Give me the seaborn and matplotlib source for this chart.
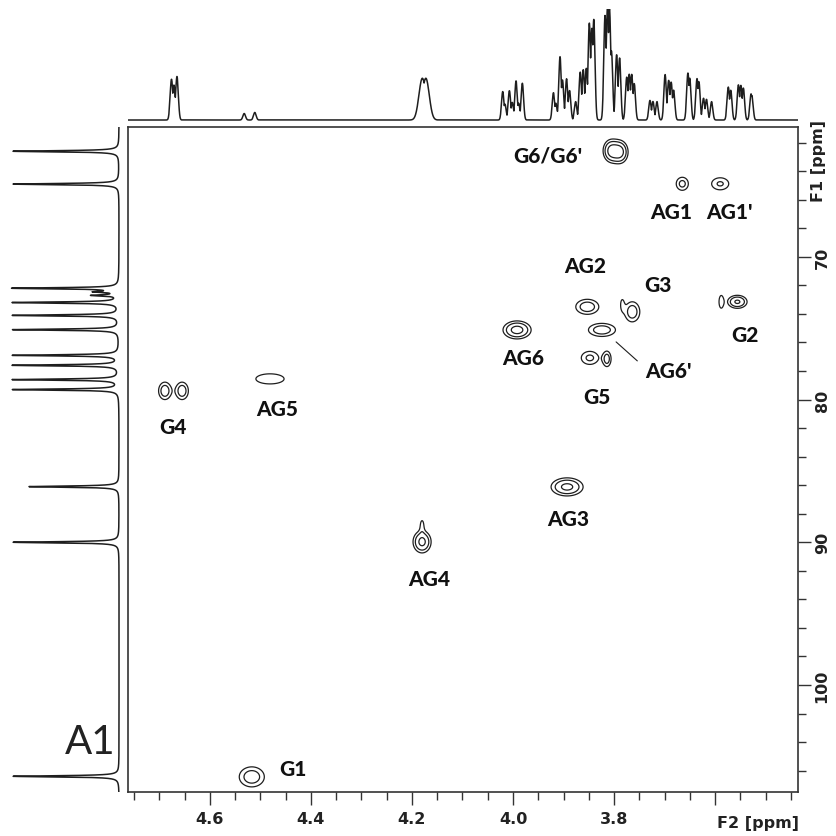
import numpy as np
import pandas as pd
import matplotlib
matplotlib.use("Agg")
import matplotlib.pyplot as plt
import matplotlib.transforms as mtransforms
from matplotlib.ticker import MultipleLocator, FixedLocator
import seaborn as sns

sns.set_theme(style="white")
plt.rcParams['font.family'] = ['DejaVu Sans']

# ---------------- data ----------------
F2_RANGE = (4.762, 3.436)     # 1H ppm (left -> right)
F1_RANGE = (60.9, 107.5)      # 13C ppm (top -> bottom)

# 1H projection lines (ppm, relative intensity, width)
h_pos = [4.676, 4.671, 4.665, 4.532, 4.511, 4.180, 4.172,
         4.0204, 4.0158, 4.0072, 4.0013, 3.9940, 3.9887, 3.9815,
         3.920, 3.915, 3.907, 3.902, 3.894, 3.888, 3.876, 3.867, 3.861, 3.855,
         3.849, 3.844, 3.840, 3.818, 3.813, 3.809, 3.805, 3.795, 3.789,
         3.775, 3.770, 3.765, 3.760,
         3.729, 3.723, 3.715,
         3.699, 3.692, 3.687, 3.682,
         3.654, 3.650, 3.636, 3.632, 3.623, 3.617, 3.607,
         3.574, 3.569, 3.554, 3.549, 3.544, 3.529, 3.527]
h_int = [0.37, 0.31, 0.40, 0.06, 0.07, 0.36, 0.36,
         0.26, 0.14, 0.27, 0.16, 0.36, 0.15, 0.34,
         0.25, 0.15, 0.58, 0.36, 0.38, 0.27, 0.17, 0.44, 0.46, 0.47,
         0.88, 0.80, 0.90, 0.95, 1.00, 0.97, 0.60, 0.60, 0.57,
         0.39, 0.41, 0.41, 0.33,
         0.18, 0.17, 0.17,
         0.42, 0.36, 0.34, 0.27,
         0.42, 0.37, 0.37, 0.34, 0.20, 0.19, 0.17,
         0.30, 0.27, 0.32, 0.31, 0.29, 0.22, 0.20]
h_wid = [0.0026] * 5 + [0.0065, 0.0065] + [0.0024] * (len(h_pos) - 7)

# 13C projection lines (ppm, relative intensity)
c_pos = [62.6, 64.9, 72.2, 72.45, 72.7, 73.2, 74.1, 75.1, 76.9, 77.6, 78.6, 79.3,
         86.1, 90.0, 106.4]
c_int = [1.00, 1.00, 1.00, 0.20, 0.24, 1.00, 1.00, 1.00, 1.00, 1.00, 1.00, 1.00,
         0.85, 1.00, 1.00]

# HSQC cross peaks: 1H ppm, 13C ppm, amplitude, 1H sigma, 13C sigma
xp_h   = [3.806, 3.788, 3.665, 3.590, 3.853, 3.764, 3.784, 3.556, 3.588,
          3.992, 3.824, 3.848, 3.814, 4.481, 4.689, 4.655, 3.893, 4.180, 4.180, 4.517]
xp_c   = [62.57, 62.65, 64.88, 64.88, 73.50, 73.85, 73.30, 73.15, 73.15,
          75.12, 75.12, 77.08, 77.15, 78.55, 79.39, 79.39, 86.12, 89.97, 88.75, 106.44]
xp_amp = [0.70, 0.70, 0.42, 0.38, 0.50, 0.50, 0.22, 0.65, 0.30,
          0.75, 0.50, 0.40, 0.45, 0.28, 0.50, 0.50, 0.70, 0.70, 0.24, 0.50]
xp_sh  = [0.0099, 0.0099, 0.0098, 0.0149, 0.0168, 0.0110, 0.0040, 0.0125, 0.0045,
          0.0171, 0.0197, 0.0143, 0.0062, 0.0340, 0.0092, 0.0092, 0.0200, 0.0113, 0.0040, 0.0183]
xp_sc  = [0.49, 0.49, 0.374, 0.371, 0.388, 0.518, 0.45, 0.297, 0.47,
          0.388, 0.337, 0.387, 0.413, 0.43, 0.45, 0.45, 0.40, 0.49, 0.40, 0.518]
contour_levels = [0.20, 0.35, 0.60]

# peak labels
lab_text = ["G6/G6'", "AG1", "AG1'", "AG2", "G3", "G2", "AG6", "AG6'", "G5",
            "G4", "AG5", "AG3", "AG4", "G1"]
lab_h = [3.931, 3.687, 3.572, 3.857, 3.713, 3.541, 3.980, 3.693, 3.834,
         4.673, 4.467, 3.891, 4.166, 4.436]
lab_c = [62.85, 66.85, 66.85, 70.63, 71.96, 75.47, 77.08, 77.99, 79.81,
         81.91, 80.65, 88.36, 92.56, 105.88]
# leader line for AG6'
lead_h = [3.796, 3.754]
lead_c = [75.96, 77.29]

x_major = [4.6, 4.4, 4.2, 4.0, 3.8, 3.6]
x_labels = ["4.6", "4.4", "4.2", "4.0", "3.8", ""]
y_major = [70, 80, 90, 100]
y_labels = ["70", "80", "90", "100"]

# ---------------- figure ----------------
W, H = 836, 837
fig = plt.figure(figsize=(W / 100, H / 100), dpi=100)
L, R, T, B = 128, 798, 128, 793
ax = fig.add_axes([L / W, 1 - B / H, (R - L) / W, (B - T) / H])
axt = fig.add_axes([L / W, 1 - 125 / H, (R - L) / W, 115 / H])
axl = fig.add_axes([5 / W, 1 - B / H, (127 - 5) / W, (B - T) / H])

ink = "#1e1e1e"

# 2D contours
gx = np.linspace(F2_RANGE[1], F2_RANGE[0], 1400)
gy = np.linspace(F1_RANGE[0], F1_RANGE[1], 1100)
X, Y = np.meshgrid(gx, gy)
Z = np.zeros_like(X)
for h0, c0, a, sh, sc in zip(xp_h, xp_c, xp_amp, xp_sh, xp_sc):
    Z += a * np.exp(-0.5 * (((X - h0) / sh) ** 2 + ((Y - c0) / sc) ** 2))
ax.contour(X, Y, Z, levels=contour_levels, colors=ink, linewidths=0.9)

for t, hx, cy in zip(lab_text, lab_h, lab_c):
    ax.text(hx, cy, t, ha="center", va="center", fontsize=15, fontweight="black",
            family="Lato", color="#111111")
ax.plot(lead_h, lead_c, color=ink, lw=0.8)

ax.set_xlim(*F2_RANGE)
ax.set_ylim(F1_RANGE[1], F1_RANGE[0])
ax.yaxis.tick_right()
ax.xaxis.set_major_locator(FixedLocator(x_major))
ax.set_xticklabels(x_labels)
ax.xaxis.set_minor_locator(MultipleLocator(0.05))
ax.yaxis.set_major_locator(FixedLocator(y_major))
ax.set_yticklabels(y_labels)
ax.yaxis.set_minor_locator(MultipleLocator(2))
ax.tick_params(axis="both", which="both", direction="out", color="#333333", width=1.0,
               bottom=True, right=True, left=False, top=False)
ax.tick_params(axis="both", which="major", length=9)
ax.tick_params(axis="both", which="minor", length=5.5)
ax.tick_params(axis="x", pad=5, labelsize=11.5)
ax.tick_params(axis="y", pad=3, labelsize=11.5, labelrotation=90)
for lab in ax.get_xticklabels() + ax.get_yticklabels():
    lab.set_fontweight("bold")
    lab.set_color("#222222")
for lab in ax.get_yticklabels():
    lab.set_va("center")
for s in ax.spines.values():
    s.set_color("#333333")
    s.set_linewidth(1.2)
ax.set_xlabel("")
ax.set_ylabel("")

trx = mtransforms.blended_transform_factory(ax.transData, ax.transAxes)
ax.text(3.597, -0.046, "F2 [ppm]", transform=trx, ha="left", va="center",
        fontsize=11.5, fontweight="bold", color="#222222")
try_ = mtransforms.blended_transform_factory(ax.transAxes, ax.transData)
ax.text(1.030, 63.2, "F1 [ppm]", transform=try_, ha="center", va="center",
        rotation=90, fontsize=11.5, fontweight="bold", color="#222222")

# 1H projection (top) - envelope of the multiplet lines
hx = np.linspace(F2_RANGE[1], F2_RANGE[0], 8000)
lines = np.array([a * np.exp(-0.5 * ((hx - p) / w) ** 2)
                  for p, a, w in zip(h_pos, h_int, h_wid)])
hy = lines.max(axis=0) + 0.15 * (lines.sum(axis=0) - lines.max(axis=0))
df_h = pd.DataFrame({"ppm": hx, "I": hy})
sns.lineplot(data=df_h, x="ppm", y="I", ax=axt, color=ink, lw=1.1, estimator=None)
axt.set_xlim(*F2_RANGE)
axt.set_ylim(-0.037, 1.028)
axt.axis("off")

# 13C projection (left)
cy = np.linspace(F1_RANGE[0], F1_RANGE[1], 9000)
cx = np.zeros_like(cy)
for p, a in zip(c_pos, c_int):
    g = 0.05
    cx += a * (g ** 2 / ((cy - p) ** 2 + g ** 2))
df_c = pd.DataFrame({"ppm": cy, "I": cx})
sns.lineplot(data=df_c, x="I", y="ppm", ax=axl, color=ink, lw=1.1, estimator=None,
             orient="y", sort=False)
axl.set_ylim(F1_RANGE[1], F1_RANGE[0])
axl.set_xlim(1.075, -0.075)
axl.axis("off")

fig.text(90 / W, 1 - 743 / H, "A1", ha="center", va="center", fontsize=29,
         family="Lato", color="#222222")

fig.savefig("out.png", dpi=100, facecolor="white")
